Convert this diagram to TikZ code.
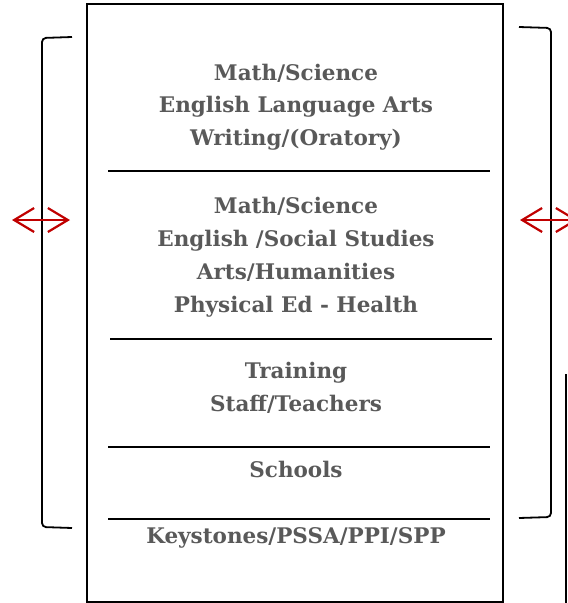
\documentclass[tikz,border=0pt]{standalone}
\usepackage{fontspec}
\setmainfont{DejaVu Serif}
\usetikzlibrary{arrows.meta}
\definecolor{txtgray}{HTML}{595959}
\definecolor{arrred}{HTML}{C00000}
\tikzset{
	lbl/.style={font=\bfseries\fontsize{21.5}{24}\selectfont, text=txtgray, inner sep=0pt, anchor=base},
	sep/.style={line width=1.8pt},
	brk/.style={line width=1.8pt, rounded corners=4pt},
	dbl/.style={arrred, line width=2.2pt, {Straight Barb[length=20pt,width=24pt]}-{Straight Barb[length=20pt,width=24pt]}}
}

\begin{document}
\begin{tikzpicture}[x=1pt,y=-1pt]
	\clip (0,0) rectangle (568,603);
	\useasboundingbox (0,0) rectangle (568,603);
	\draw[line width=1.8pt] (87,4) rectangle (503,602);%box
	% group 1
	\node[lbl] (m1) at (296,80){Math/Science};
	\node[lbl] (e1) at (296,112.5){English Language Arts};
	\node[lbl] (w1) at (296,145){Writing/(Oratory)};
	\draw[sep] (108,171) -- (490,171);
	% group 2
	\node[lbl] (m2) at (296,213){Math/Science};
	\node[lbl] (e2) at (296,246){English /Social Studies};
	\node[lbl] (a2) at (296,279){Arts/Humanities};
	\node[lbl] (p2) at (296,312){Physical Ed - Health};
	\draw[sep] (110,339) -- (492,339);
	% group 3
	\node[lbl] (t3) at (296,378){Training};
	\node[lbl] (s3) at (296,411){Staff/Teachers};
	\draw[sep] (108,447) -- (490,447);
	% group 4
	\node[lbl] (sc) at (296,477){Schools};
	\draw[sep] (108,519) -- (490,519);
	\node[lbl] (ks) at (296,543){Keystones/PSSA/PPI/SPP};
	% brackets
	\draw[brk] (72,37) -- (42,38) -- (42,527) -- (72,528);
	\draw[brk] (519,27) -- (551,28) -- (551,517) -- (519,518);
	\draw[line width=1.8pt] (566,374) -- (566,603);
	% arrows
	\coordinate (la) at (12,220);
	\coordinate (lb) at (70,220);
	\coordinate (ra) at (520,220);
	\coordinate (rb) at (578,220);
	\draw[dbl] (la) -- (lb);
	\draw[dbl] (ra) -- (rb);
\end{tikzpicture}
\end{document}
